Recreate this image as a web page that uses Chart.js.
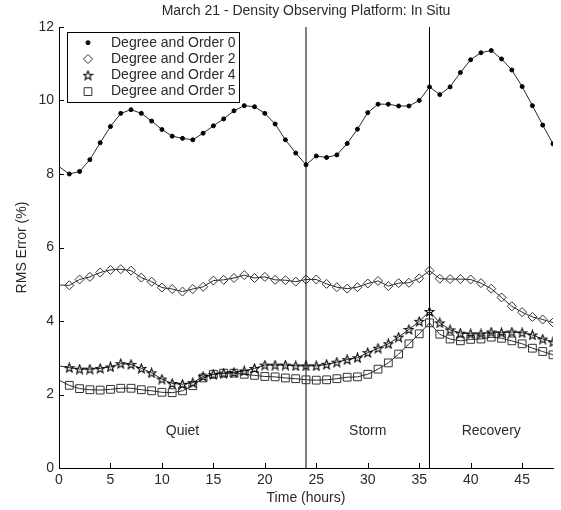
<!DOCTYPE html>
<html>
<head>
<meta charset="utf-8">
<script src="https://cdn.jsdelivr.net/npm/chart.js@4.4.1/dist/chart.umd.min.js"></script>
<style>
  html, body { margin: 0; padding: 0; background: #fff; }
  canvas { display: block; }
</style>
</head>
<body>
<canvas id="rms" width="561" height="510"></canvas>
<script>
const hours = [0, 1, 2, 3, 4, 5, 6, 7, 8, 9, 10, 11, 12, 13, 14, 15, 16, 17, 18, 19, 20, 21, 22, 23, 24,
  25, 26, 27, 28, 29, 30, 31, 32, 33, 34, 35, 36, 37, 38, 39, 40, 41, 42, 43, 44, 45, 46, 47, 48];

const deg0 = [8.2, 8.0, 8.07, 8.39, 8.85, 9.29, 9.65, 9.75, 9.65, 9.44, 9.21, 9.03, 8.97, 8.93, 9.11, 9.31,
  9.50, 9.72, 9.86, 9.83, 9.65, 9.36, 8.93, 8.57, 8.25, 8.49, 8.45, 8.52, 8.83, 9.22, 9.67, 9.90, 9.90,
  9.85, 9.85, 10.0, 10.37, 10.16, 10.37, 10.76, 11.11, 11.30, 11.36, 11.13, 10.83, 10.38, 9.86, 9.33, 8.82];
const deg2 = [4.98, 4.97, 5.13, 5.20, 5.32, 5.39, 5.41, 5.37, 5.18, 5.07, 4.91, 4.87, 4.80, 4.87, 4.93, 5.10,
  5.12, 5.17, 5.25, 5.17, 5.20, 5.12, 5.11, 5.07, 5.13, 5.13, 5.01, 4.92, 4.88, 4.92, 5.02, 5.09, 4.95,
  5.03, 5.04, 5.16, 5.37, 5.15, 5.14, 5.14, 5.13, 5.03, 4.88, 4.64, 4.40, 4.24, 4.11, 4.04, 3.96];
const deg4 = [2.78, 2.73, 2.69, 2.69, 2.71, 2.75, 2.84, 2.82, 2.71, 2.59, 2.42, 2.30, 2.28, 2.32, 2.49, 2.55,
  2.58, 2.60, 2.64, 2.71, 2.80, 2.80, 2.80, 2.78, 2.78, 2.78, 2.82, 2.88, 2.95, 3.00, 3.14, 3.26, 3.38,
  3.56, 3.77, 3.99, 4.26, 3.95, 3.76, 3.67, 3.65, 3.65, 3.70, 3.68, 3.70, 3.68, 3.62, 3.51, 3.43];
const deg5 = [2.39, 2.25, 2.16, 2.13, 2.12, 2.14, 2.17, 2.17, 2.13, 2.10, 2.06, 2.05, 2.10, 2.24, 2.45, 2.55,
  2.58, 2.58, 2.55, 2.52, 2.49, 2.48, 2.45, 2.43, 2.40, 2.39, 2.40, 2.43, 2.47, 2.48, 2.55, 2.69, 2.86,
  3.10, 3.38, 3.65, 3.95, 3.64, 3.51, 3.46, 3.50, 3.51, 3.56, 3.53, 3.46, 3.38, 3.26, 3.17, 3.08];

const seriesLabels = ["Degree and Order 0", "Degree and Order 2", "Degree and Order 4", "Degree and Order 5"];
const phaseBounds = [24, 36];
const phaseNames = ["Quiet", "Storm", "Recovery"];
const phaseCenters = [12, 30, 42];
const phaseLabelLevel = 1;
const yTicks = [0, 2, 4, 6, 8, 10, 12];
const xTicks = [0, 5, 10, 15, 20, 25, 30, 35, 40, 45];

const FONT = '"Liberation Sans", Arial, Helvetica, sans-serif';
const INK = "#2a2a2a";

// matlab style pentagram marker
function pentagram(size) {
  const c = document.createElement("canvas");
  c.width = size; c.height = size;
  const g = c.getContext("2d");
  const cx = size / 2, cy = size / 2 + 0.4, R = size / 2 - 0.8, r = R * 0.42;
  g.beginPath();
  for (let k = 0; k < 10; k++) {
    const a = -Math.PI / 2 + k * Math.PI / 5;
    const rr = k % 2 ? r : R;
    g.lineTo(cx + rr * Math.cos(a), cy + rr * Math.sin(a));
  }
  g.closePath();
  g.strokeStyle = "#000";
  g.lineWidth = 1.1;
  g.stroke();
  return c;
}
const star = pentagram(11);

const xy = (arr) => hours.map((h, i) => ({ x: h, y: arr[i] }));
const hideFirst = (r) => (ctx) => (ctx.dataIndex === 0 ? 0 : r);

const markers = [
  { pointStyle: "circle", radius: 2, fill: "#000", stroke: "#000" },
  { pointStyle: "rectRot", radius: 4.5, fill: "rgba(0,0,0,0)", stroke: "#333" },
  { pointStyle: star, radius: 4, fill: "rgba(0,0,0,0)", stroke: "#000" },
  { pointStyle: "rect", radius: 5.5, fill: "rgba(0,0,0,0)", stroke: "#333" },
];

const datasets = [deg0, deg2, deg4, deg5].map((arr, i) => ({
  label: seriesLabels[i],
  data: xy(arr),
  borderColor: "#2a2a2a",
  borderWidth: 1,
  tension: 0,
  pointStyle: markers[i].pointStyle,
  pointRadius: hideFirst(markers[i].radius),
  pointBackgroundColor: markers[i].fill,
  pointBorderColor: markers[i].stroke,
  pointBorderWidth: 1,
}));

phaseBounds.forEach((b) => {
  datasets.push({
    label: "",
    data: [{ x: b, y: yTicks[0] }, { x: b, y: yTicks[yTicks.length - 1] }],
    borderColor: "#000",
    borderWidth: 1,
    pointRadius: 0,
  });
});

const decor = {
  id: "decor",
  afterDraw(chart) {
    const { ctx, chartArea: a, scales: { x, y } } = chart;
    ctx.save();

    // inward ticks
    ctx.strokeStyle = "#000";
    ctx.lineWidth = 1;
    ctx.beginPath();
    xTicks.forEach((t) => {
      const px = Math.round(x.getPixelForValue(t)) + 0.5;
      ctx.moveTo(px, a.bottom);
      ctx.lineTo(px, a.bottom - 5);
    });
    yTicks.forEach((t) => {
      const py = Math.round(y.getPixelForValue(t)) + 0.5;
      ctx.moveTo(a.left, py);
      ctx.lineTo(a.left + 5, py);
    });
    ctx.stroke();

    // title
    ctx.fillStyle = INK;
    ctx.font = "14px " + FONT;
    ctx.textAlign = "center";
    ctx.textBaseline = "middle";
    ctx.fillText("March 21 - Density Observing Platform: In Situ", (a.left + a.right) / 2, 11);

    // phase labels
    phaseNames.forEach((n, i) => {
      ctx.fillText(n, x.getPixelForValue(phaseCenters[i]), y.getPixelForValue(phaseLabelLevel));
    });

    // legend
    const lx = a.left + 8, ly = a.top + 5, lw = 172, lh = 70;
    ctx.fillStyle = "#fff";
    ctx.fillRect(lx, ly, lw, lh);
    ctx.strokeStyle = "#000";
    ctx.strokeRect(lx + 0.5, ly + 0.5, lw, lh);
    seriesLabels.forEach((lab, i) => {
      const cy = ly + 10.7 + i * 16.3;
      const m = markers[i];
      ctx.fillStyle = m.fill;
      ctx.strokeStyle = m.stroke;
      ctx.lineWidth = 1;
      Chart.helpers.drawPoint(ctx, { pointStyle: m.pointStyle, radius: m.radius, rotation: 0, borderWidth: 1 }, lx + 21, cy);
      ctx.fillStyle = INK;
      ctx.textAlign = "left";
      ctx.fillText(lab, lx + 44, cy);
    });

    ctx.restore();
  },
};

new Chart(document.getElementById("rms"), {
  type: "line",
  data: { datasets },
  plugins: [decor],
  options: {
    responsive: false,
    animation: false,
    layout: { padding: { top: 27, right: 8, left: 0, bottom: 0 } },
    plugins: { legend: { display: false }, title: { display: false }, tooltip: { enabled: false } },
    scales: {
      x: {
        type: "linear",
        min: 0,
        max: 48,
        afterFit: (s) => { s.height = 42; },
        afterBuildTicks: (s) => { s.ticks = xTicks.map((v) => ({ value: v })); },
        grid: { display: false, drawTicks: false },
        border: { display: true, color: "#000", width: 1 },
        ticks: { color: INK, font: { family: FONT, size: 14 }, padding: 4, maxRotation: 0, autoSkip: false },
        title: { display: true, text: "Time (hours)", color: INK, font: { family: FONT, size: 14 }, padding: { top: 0, bottom: 3 } },
      },
      y: {
        min: 0,
        max: 12,
        afterFit: (s) => { s.width = 59; },
        afterBuildTicks: (s) => { s.ticks = yTicks.map((v) => ({ value: v })); },
        grid: { display: false, drawTicks: false },
        border: { display: true, color: "#000", width: 1 },
        ticks: { color: INK, font: { family: FONT, size: 14 }, padding: 5 },
        title: { display: true, text: "RMS Error (%)", color: INK, font: { family: FONT, size: 14 }, padding: { top: 14, bottom: 0 } },
      },
    },
  },
});
</script>
</body>
</html>
